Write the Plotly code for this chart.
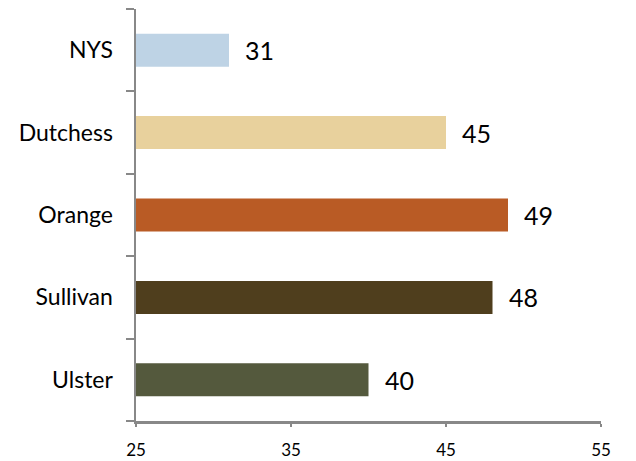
import plotly.graph_objects as go

categories = ["NYS", "Dutchess", "Orange", "Sullivan", "Ulster"]
values = [31, 45, 49, 48, 40]
colors = ["#BED3E5", "#E8D19D", "#B95B25", "#4F3E1D", "#54593D"]
x_ticks = [25, 35, 45, 55]

font_family = "Lato, 'Open Sans', sans-serif"

fig = go.Figure()
fig.add_trace(go.Bar(
    y=categories,
    x=values,
    orientation="h",
    marker=dict(color=colors, line=dict(width=0)),
    hoverinfo="skip",
))

for c, v in zip(categories, values):
    fig.add_annotation(
        x=v, y=c, text=str(v), showarrow=False,
        xanchor="left", xshift=14,
        font=dict(family=font_family, size=25, color="#000000"),
    )

fig.update_layout(
    width=636, height=461,
    margin=dict(l=136, r=35, t=9, b=40, autoexpand=False),
    paper_bgcolor="white", plot_bgcolor="white",
    bargap=0.6,
    showlegend=False,
    font=dict(family=font_family, color="#000000"),
)

fig.update_xaxes(
    range=[25, 55],
    tickvals=x_ticks,
    ticktext=[str(t) for t in x_ticks],
    showgrid=False, zeroline=False,
    showline=True, linecolor="#888888", linewidth=2.5,
    ticks="outside", ticklen=3, tickcolor="#888888", tickwidth=2,
    tickfont=dict(family=font_family, size=17, color="#000000"),
    ticklabelstandoff=9,
    automargin=False,
)

fig.update_yaxes(
    categoryorder="array",
    categoryarray=categories[::-1],
    showgrid=False, zeroline=False,
    showline=True, linecolor="#888888", linewidth=2.5,
    ticks="outside", ticklen=8, tickcolor="#888888", tickwidth=2,
    tickson="boundaries",
    tickfont=dict(family=font_family, size=23, color="#000000"),
    ticklabelstandoff=16,
    automargin=False,
)

fig.write_html(
    "out.html",
    config={"displayModeBar": False, "staticPlot": True},
    post_script="document.body.style.margin='0';document.body.style.padding='0';",
)
